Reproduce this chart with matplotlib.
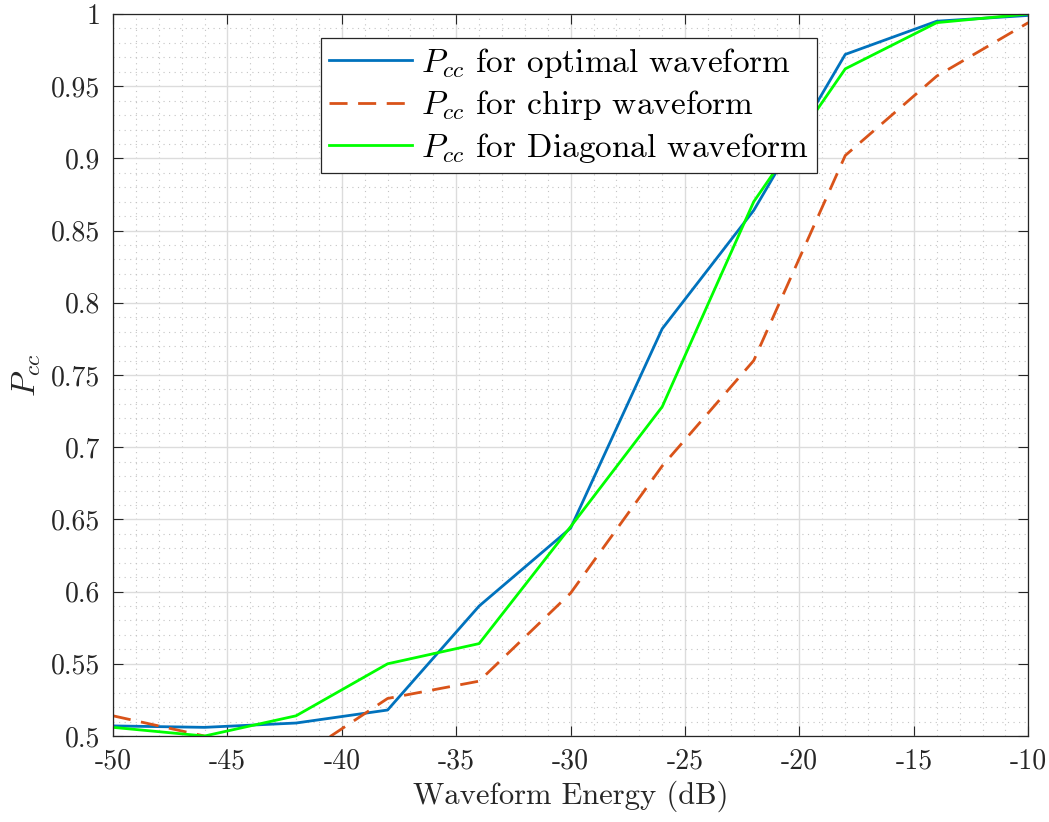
import matplotlib
matplotlib.use('Agg')
import matplotlib.pyplot as plt
from matplotlib.ticker import MultipleLocator

plt.rcParams['font.family'] = 'serif'
plt.rcParams['font.serif'] = ['cmr10', 'DejaVu Serif']
plt.rcParams['mathtext.fontset'] = 'cm'
plt.rcParams['axes.unicode_minus'] = False
plt.rcParams['axes.formatter.use_mathtext'] = True

energy_db = [-50, -46, -42, -38, -34, -30, -26, -22, -18, -14, -10]
pcc_optimal = [0.507, 0.506, 0.509, 0.518, 0.590, 0.644, 0.782, 0.864, 0.972, 0.995, 0.999]
pcc_chirp = [0.514, 0.500, 0.484, 0.526, 0.538, 0.599, 0.687, 0.760, 0.902, 0.957, 0.994]
pcc_diagonal = [0.506, 0.500, 0.514, 0.550, 0.564, 0.645, 0.728, 0.870, 0.962, 0.994, 1.000]

xticks = [-50, -45, -40, -35, -30, -25, -20, -15, -10]
xticklabels = ['-50', '-45', '-40', '-35', '-30', '-25', '-20', '-15', '-10']
yticks = [0.5, 0.55, 0.6, 0.65, 0.7, 0.75, 0.8, 0.85, 0.9, 0.95, 1.0]
yticklabels = ['0.5', '0.55', '0.6', '0.65', '0.7', '0.75', '0.8', '0.85', '0.9', '0.95', '1']

fig = plt.figure(figsize=(10.49, 8.22), dpi=100)
ax = fig.add_axes([0.1077, 0.1046, 0.8726, 0.8784])

ax.plot(energy_db, pcc_optimal, color='#0072BD', lw=2, label=r'$P_{cc}$ for optimal waveform')
ax.plot(energy_db, pcc_chirp, color='#D95319', lw=2, ls=(0, (6.5, 3.8)), label=r'$P_{cc}$ for chirp waveform')
ax.plot(energy_db, pcc_diagonal, color='#00FF00', lw=2, label=r'$P_{cc}$ for Diagonal waveform')

ax.set_xlim(-50, -10)
ax.set_ylim(0.5, 1.0)
ax.set_xticks(xticks)
ax.set_xticklabels(xticklabels)
ax.set_yticks(yticks)
ax.set_yticklabels(yticklabels)
ax.xaxis.set_minor_locator(MultipleLocator(1))
ax.yaxis.set_minor_locator(MultipleLocator(0.01))

ax.grid(which='major', color='#dcdcdc', lw=1.0, ls='-')
ax.grid(which='minor', color='#c4c4c4', lw=0.8, ls=(0, (1, 4)))
ax.set_axisbelow(True)

ax.tick_params(which='major', direction='in', length=7, width=0.8, top=True, right=True,
               labelsize=20, colors='#262626', pad=9)
ax.tick_params(which='minor', length=0)
for s in ax.spines.values():
    s.set_color('#262626')
    s.set_linewidth(0.9)

ax.set_xlabel('Waveform Energy (dB)', fontsize=22, color='#262626', labelpad=4)
ax.set_ylabel(r'$P_{cc}$', fontsize=24, color='#262626', labelpad=6)

leg = ax.legend(loc='upper left', bbox_to_anchor=(0.227, 0.967), fontsize=24, handlelength=2.5,
                fancybox=False, framealpha=1, edgecolor='#262626', borderpad=0.25,
                labelspacing=0.25, handletextpad=0.25, borderaxespad=0)
leg.get_frame().set_linewidth(0.9)

fig.savefig('out.png', dpi=100)
